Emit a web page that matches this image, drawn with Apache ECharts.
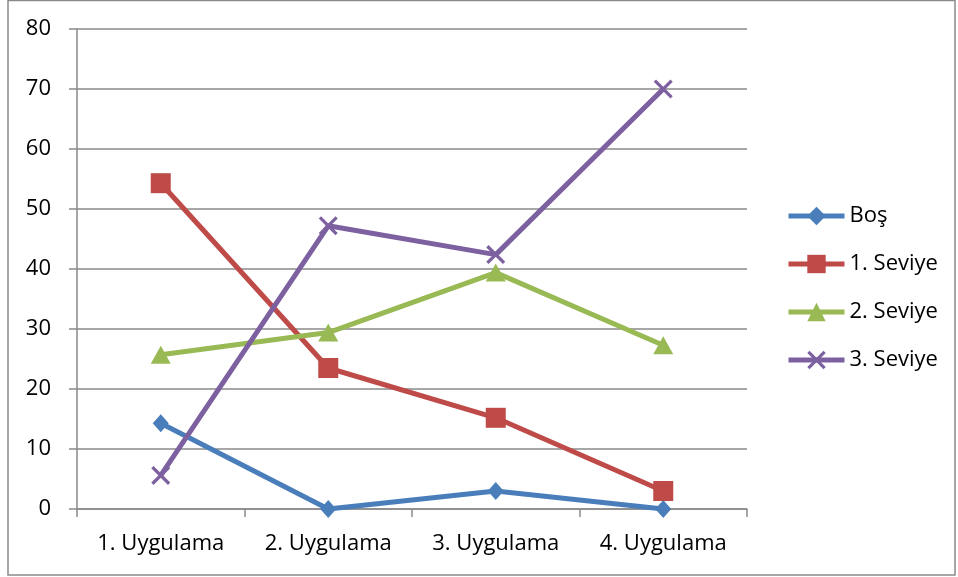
<!DOCTYPE html>
<html>
<head>
<meta charset="utf-8">
<script src="https://cdn.jsdelivr.net/npm/echarts@6/dist/echarts.min.js"></script>
<style>
  html, body { margin: 0; padding: 0; background: #fff; }
  #chart { width: 958px; height: 577px; }
</style>
</head>
<body>
<div id="chart"></div>
<script>
// Categories and series values
const categories = ['1. Uygulama', '2. Uygulama', '3. Uygulama', '4. Uygulama'];
const bos     = [14.3, 0, 3.0, 0];
const seviye1 = [54.3, 23.5, 15.2, 3.0];
const seviye2 = [25.7, 29.4, 39.4, 27.3];
const seviye3 = [5.6, 47.2, 42.4, 70.0];
const yTicks  = { min: 0, max: 80, interval: 10 };

const FONT = '"Open Sans"';
const FONT_SIZE = 22;
const crossPath = 'path://M0,1.2L1.2,0L10,8.8L8.8,10Z M8.8,0L10,1.2L1.2,10L0,8.8Z';

function lineSeries(name, data, color, symbol, size) {
  return {
    name, type: 'line', data,
    symbol, symbolSize: size,
    lineStyle: { color, width: 5 },
    itemStyle: { color },
    emphasis: { disabled: true },
    animation: false
  };
}

const chart = echarts.init(document.getElementById('chart'), null, { renderer: 'canvas' });
chart.setOption({
  backgroundColor: '#fff',
  animation: false,
  grid: { left: 77, right: 211, top: 29, bottom: 68 },
  xAxis: {
    type: 'category', data: categories, boundaryGap: true,
    axisLine: { lineStyle: { color: '#8a8a8a', width: 1.5 } },
    axisTick: { show: true, length: 8, lineStyle: { color: '#8a8a8a', width: 1.5 } },
    axisLabel: { color: '#000', fontFamily: FONT, fontSize: FONT_SIZE, margin: 24 }
  },
  yAxis: {
    type: 'value', min: yTicks.min, max: yTicks.max, interval: yTicks.interval,
    axisLine: { show: true, lineStyle: { color: '#8a8a8a', width: 1.5 } },
    axisTick: { show: true, length: 8, lineStyle: { color: '#8a8a8a', width: 1.5 } },
    splitLine: { show: true, lineStyle: { color: '#8a8a8a', width: 1.5 } },
    axisLabel: { color: '#000', fontFamily: FONT, fontSize: FONT_SIZE, margin: 26 }
  },
  legend: {
    orient: 'vertical', left: 786, top: 205, padding: 0,
    itemWidth: 56, itemHeight: 23, itemGap: 26,
    lineStyle: { width: 5 },
    textStyle: { color: '#000', fontFamily: FONT, fontSize: FONT_SIZE, lineHeight: 18 },
    selectedMode: false
  },
  graphic: [{
    type: 'rect', silent: true, z: -1,
    shape: { x: 8, y: 0.5, width: 947, height: 574.5 },
    style: { fill: 'none', stroke: '#8a8a8a', lineWidth: 1.5 }
  }],
  series: [
    lineSeries('Boş', bos, '#4A7EBB', 'diamond', [16, 18]),
    lineSeries('1. Seviye', seviye1, '#BE4B48', 'rect', 20),
    lineSeries('2. Seviye', seviye2, '#98B954', 'triangle', [20, 18]),
    lineSeries('3. Seviye', seviye3, '#7D60A0', crossPath, 19)
  ]
});
</script>
</body>
</html>
